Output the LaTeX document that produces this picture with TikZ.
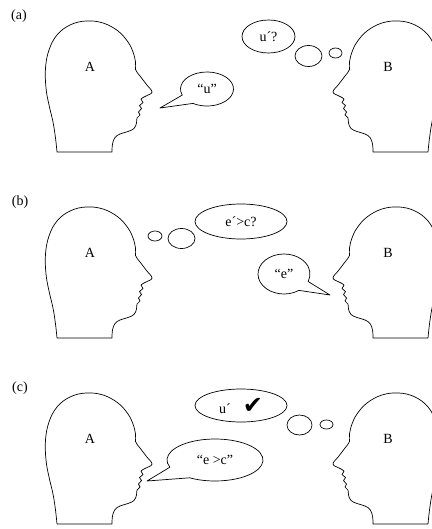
\documentclass[tikz,border=0pt]{standalone}
\usepackage{fontspec}
\setmainfont{Liberation Serif}
\newfontfamily\symfont{DejaVu Sans}
\usetikzlibrary{shapes.geometric}

\tikzset{
  outline/.style={line width=0.7pt, line join=round},
  lab/.style={font=\fontsize{14}{16}\selectfont, inner sep=0pt},
  thought/.style={draw, outline, ellipse, inner sep=0pt, font=\fontsize{14}{16}\selectfont},
  pics/head/.style={code={
    \draw[outline] plot[smooth, tension=0.65] coordinates {
      (112,152) (112.5,144) (115,137.5) (120,134) (128,131.5) (134,128.5)
      (136.5,123) (137,118) (140,115) (138.5,112) (141.5,108.5) (139.5,105.5)
      (143,102.5) (141,99) (146,96) (152,92) (146.5,84.5) (140,76)
      (135.5,69.5) (135.5,62) (133,52) (128,42) (118,31) (103,23)
      (86,21) (70,25) (57,35) (49,50) (45.5,68) (46,88) (49,105)
      (53,122) (55.5,138) (57,152)} -- cycle;
  }}
}

\begin{document}
\begin{tikzpicture}[x=1pt, y=-1pt]
\useasboundingbox (0,0) rectangle (431,529);

% ---------- (a) ----------
\node[lab] (la) at (19,16) {(a)};
\pic at (0,0) {head};
\pic[xscale=-1] at (485,0) {head};
\node[lab] (Aa) at (90,67) {A};
\node[lab] (Ba) at (388,67) {B};
% A speaks
\node[lab] (sa) at (207,89) {“u”};
\coordinate (tipa) at (160,108);
\draw[outline] ([shift={(159:26.5 and 17)}]sa.center)
  arc[start angle=159, end angle=482, x radius=26.5, y radius=17] -- (tipa) -- cycle;
% B thinks
\node[thought, minimum width=53pt, minimum height=33pt] (ta1) at (268.5,36.5) {u´?};
\node[thought, minimum width=27pt, minimum height=21pt] (ta2) at (308.5,56) {};
\node[thought, minimum width=13pt, minimum height=10pt] (ta3) at (335.5,53) {};

% ---------- (b) ----------
\node[lab] (lb) at (20,202) {(b)};
\pic at (0,186) {head};
\pic[xscale=-1] at (485,186) {head};
\node[lab] (Ab) at (90,253) {A};
\node[lab] (Bb) at (388,253) {B};
% A thinks
\node[thought, minimum width=14pt, minimum height=10pt] (tb3) at (155,236) {};
\node[thought, minimum width=27pt, minimum height=20pt] (tb2) at (181.5,238.5) {};
\node[thought, minimum width=92pt, minimum height=35pt] (tb1) at (241,221.5) {e´>c?};
% B speaks
\node[lab] (sb) at (284,274) {“e”};
\coordinate (tipb) at (330,295);
\draw[outline] ([shift={(55:26 and 20)}]sb.center)
  arc[start angle=55, end angle=382, x radius=26, y radius=20] -- (tipb) -- cycle;

% ---------- (c) ----------
\node[lab] (lc) at (20,388) {(c)};
\pic at (0,372) {head};
\pic[xscale=-1] at (485,372) {head};
\node[lab] (Ac) at (90,439) {A};
\node[lab] (Bc) at (388,439) {B};
% B thinks
\node[thought, minimum width=92pt, minimum height=33pt] (tc1) at (241,405.5)
  {u´\hspace{12pt}{\symfont\fontsize{24}{24}\selectfont ✔}};
\node[thought, minimum width=25pt, minimum height=20pt] (tc2) at (299.5,425) {};
\node[thought, minimum width=13pt, minimum height=9pt] (tc3) at (326.5,424.5) {};
% A speaks
\node[lab] (sc) at (215,460) {“e >c”};
\coordinate (tipc) at (147,481);
\draw[outline] ([shift={(160:48 and 21)}]sc.center)
  arc[start angle=160, end angle=482, x radius=48, y radius=21] -- (tipc) -- cycle;
\end{tikzpicture}
\end{document}
